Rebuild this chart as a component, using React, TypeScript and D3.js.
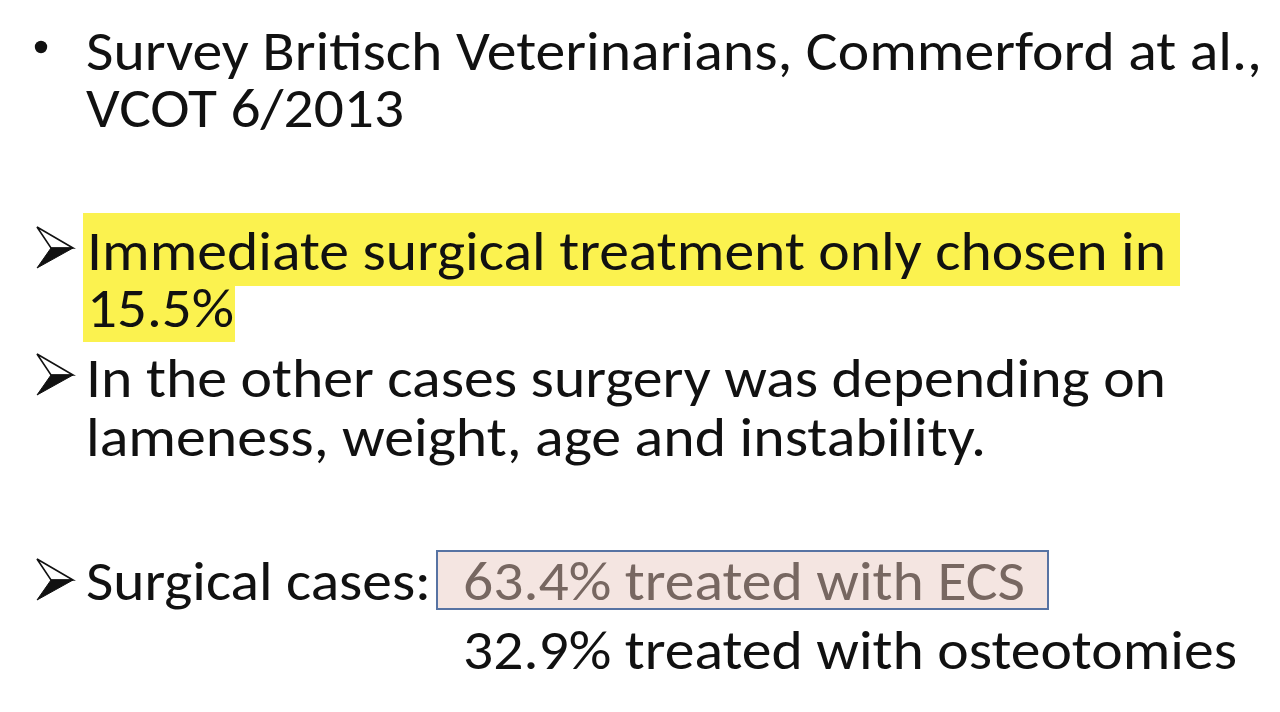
import * as d3 from "d3";

// slide text, line by line
const bulletLines = ["Survey Britisch Veterinarians, Commerford at al.,", "VCOT 6/2013"];
const highlightLines = ["Immediate surgical treatment only chosen in", "15.5%"];
const otherLines = ["In the other cases surgery was depending on", "lameness, weight, age and instability."];
const surgicalLabel = "Surgical cases:";
const surgicalShares = ["63.4% treated with ECS", "32.9% treated with osteotomies"];

const W = 1280;
const H = 712;
const FONT = "Carlito, Lato, sans-serif";
const SIZE = 56;

type Run = { text: string; x: number; end: number; y: number; fill?: string };

function Arrow({ base }: { base: number }) {
  const top = base - 41;
  const mid = base - 20;
  const p = d3.path();
  p.moveTo(37, top);
  p.lineTo(73, mid);
  p.lineTo(51, mid);
  p.closePath();
  const q = d3.path();
  q.moveTo(51, mid);
  q.lineTo(73, mid);
  q.lineTo(37, base);
  q.closePath();
  return (
    <g>
      <path d={p.toString()} fill="#fff" stroke="#111" strokeWidth={1.6} strokeLinejoin="miter" />
      <path d={q.toString()} fill="#111" stroke="#111" strokeWidth={1} />
    </g>
  );
}

export default function App() {
  const runs: Run[] = [
    { text: bulletLines[0], x: 86, end: 1262, y: 70 },
    { text: bulletLines[1], x: 86, end: 404, y: 127 },
    { text: highlightLines[0], x: 87, end: 1166, y: 270 },
    { text: highlightLines[1], x: 87, end: 234, y: 327 },
    { text: otherLines[0], x: 86, end: 1166, y: 397 },
    { text: otherLines[1], x: 86, end: 986, y: 456 },
    { text: surgicalLabel, x: 86, end: 431, y: 600 },
    { text: surgicalShares[0], x: 463, end: 1025, y: 600, fill: "#776761" },
    { text: surgicalShares[1], x: 463, end: 1237, y: 669 },
  ];

  return (
    <svg
      width={W}
      height={H}
      viewBox={`0 0 ${W} ${H}`}
      style={{ position: "fixed", left: 0, top: 0, background: "#fff" }}
    >
      <rect width={W} height={H} fill="#fff" />
      {/* yellow highlight behind first arrow item */}
      <rect x={83} y={213} width={1180 - 83} height={286 - 213} fill="#fbf24f" />
      <rect x={83} y={285} width={235 - 83} height={342 - 285} fill="#fbf24f" />
      {/* ECS box */}
      <rect x={437} y={551} width={1048 - 437} height={609 - 551} fill="#f4e5e1" stroke="#5773a3" strokeWidth={2} />

      <circle cx={41} cy={47} r={6.2} fill="#111" />
      <Arrow base={268} />
      <Arrow base={395} />
      <Arrow base={600} />

      {runs.map((r) => (
        <text
          key={r.text}
          x={r.x}
          y={r.y}
          fontFamily={FONT}
          fontSize={SIZE}
          fill={r.fill ?? "#111"}
          textLength={r.end - r.x}
          lengthAdjust="spacingAndGlyphs"
        >
          {r.text}
        </text>
      ))}
    </svg>
  );
}
